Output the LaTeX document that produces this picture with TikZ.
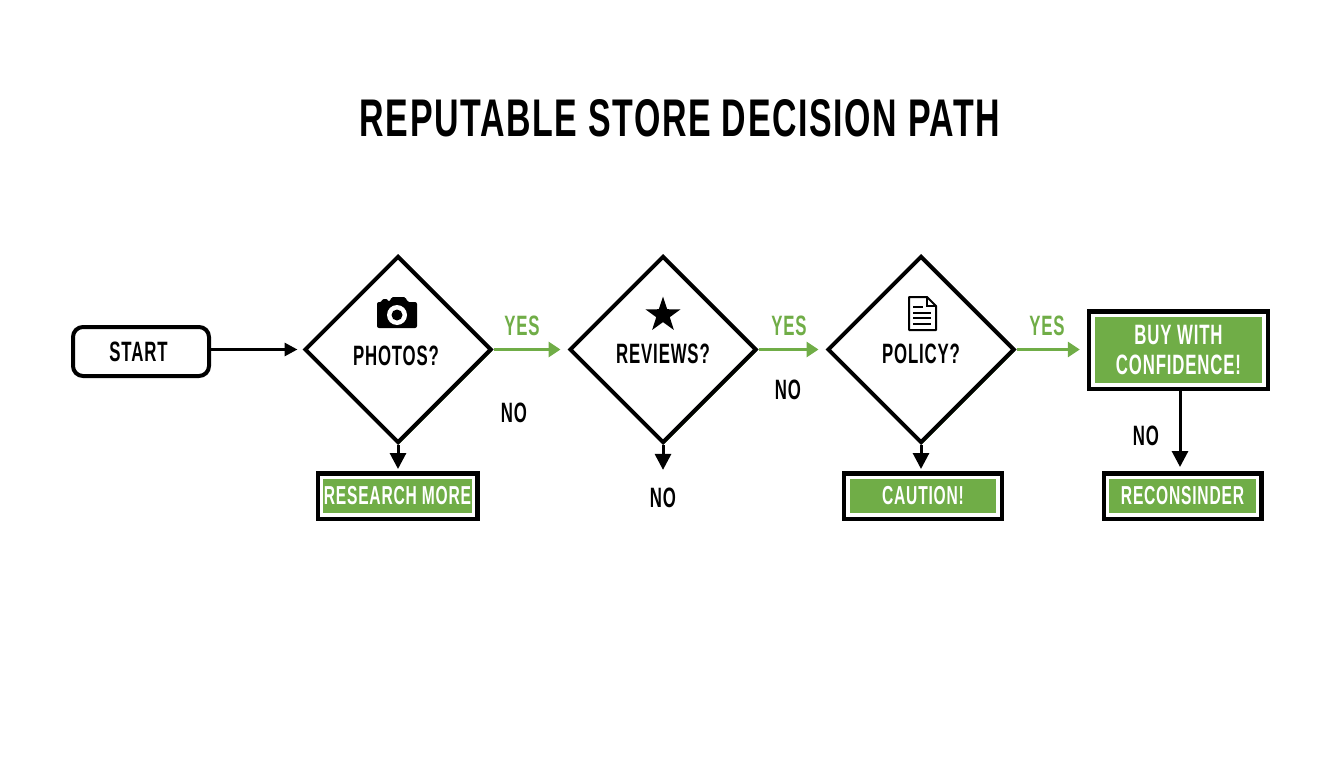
\documentclass[tikz,border=0pt]{standalone}
\usepackage{fontspec}
\usetikzlibrary{arrows.meta, shapes.geometric}

\newfontfamily\dinfont[FakeStretch=0.6, LetterSpace=3]{Liberation Sans}
\newfontfamily\titlefont[FakeStretch=0.64, LetterSpace=3]{Liberation Sans}
\definecolor{pathgreen}{HTML}{70AD47}

\tikzset{
    question/.style={diamond, draw=black, fill=white, line width=4pt, aspect=1, inner sep=0pt, minimum width=187pt, minimum height=187pt},
    qtext/.style={inner sep=0pt, font=\dinfont\bfseries\fontsize{28}{30}\selectfont},
    yeslabel/.style={qtext, text=pathgreen},
    resultbox/.style={rectangle, fill=pathgreen, draw=white, line width=3.3pt, text=white, align=center, inner sep=0pt, outer sep=6.15pt, minimum height=37.7pt,
        font=\dinfont\bfseries\fontsize{26}{30}\selectfont, preaction={draw=black, line width=12.3pt}},
    noarrow/.style={draw=black, line width=3pt, -{Triangle[length=16pt,width=16pt]}},
    yesarrow/.style={draw=pathgreen, line width=3pt, -{Triangle[length=12pt,width=15pt]}, shorten >=7pt},
}

\begin{document}
\begin{tikzpicture}[x=1pt, y=-1pt]
    \useasboundingbox (0,0) rectangle (1344,768);

    \node[inner sep=0pt, font=\titlefont\bfseries\fontsize{53}{55}\selectfont] (title) at (680,118) {REPUTABLE STORE DECISION PATH};

    \node[draw=black, line width=4pt, rounded corners=10pt, inner sep=0pt, minimum width=136pt, minimum height=49pt, font=\dinfont\bfseries\fontsize{28}{30}\selectfont] (start) at (141,351.5) {\hspace*{-5pt}START};

    \foreach \cx/\name in {398/photos, 663/reviews, 921/policy} {
        \draw[pathgreen, line width=1pt] (\cx+94,350.5) -- (\cx+1,443.5);
        \node[question] (\name) at (\cx,349.5) {};
    }

    \node[qtext] (photostext) at (396,356) {PHOTOS?};
    \node[qtext] (reviewstext) at (663,354) {REVIEWS?};
    \node[qtext] (policytext) at (921,354) {POLICY?};

    \node[resultbox, minimum width=151.7pt] (research) at (397.5,496) {RESEARCH MORE};
    \node[resultbox, minimum width=150.2pt] (caution) at (923,496) {CAUTION!};
    \node[resultbox, minimum width=149.7pt] (recon) at (1182.5,496) {RECONSINDER};
    \node[resultbox, minimum width=171.2pt, minimum height=69.7pt, font=\dinfont\bfseries\fontsize{28}{30}\selectfont] (buy) at (1178.5,350) {BUY WITH\\CONFIDENCE!};

    \node[yeslabel] (yesa) at (522,326) {YES};
    \node[yeslabel] (yesb) at (789,326) {YES};
    \node[yeslabel] (yesc) at (1047,326) {YES};

    \node[qtext] (noa) at (514,413) {NO};
    \node[qtext] (nob) at (788,390) {NO};
    \node[qtext] (noc) at (663,498) {NO};
    \node[qtext] (nod) at (1146,436) {NO};

    \draw[draw=black, line width=3pt, -{Triangle[length=13pt,width=13pt]}, shorten >=5pt] (start.east |- photos.west) -- (photos.west);
    \draw[yesarrow] (photos.east) -- (reviews.west);
    \draw[yesarrow] (reviews.east) -- (policy.west);
    \draw[yesarrow, shorten >=7pt] (policy.east) -- (policy.east -| buy.west);
    \draw[noarrow, shorten >=2pt] (photos.south) -- (photos.south |- research.north);
    \draw[noarrow, shorten >=18pt] (reviews.south) -- (noc.north);
    \draw[noarrow, shorten >=2pt] (policy.south) -- (policy.south |- caution.north);
    \draw[noarrow, shorten >=4pt] ([xshift=1.5pt]buy.south) -- ([xshift=1.5pt]buy.south |- recon.north);

    % camera
    \fill[black, rounded corners=2pt] (377,328) -- (377,302) -- (382,302) -- (382,299) -- (388,299) -- (388,302) -- (390,302) -- (391,297) -- (406,297) -- (407,302) -- (417,302) -- (417,328) -- cycle;
    \fill[white] (397,315) circle (10);
    \fill[black] (397,315) circle (5.5);

    % star
    \node[star, star points=5, star point ratio=2.6, fill=black, inner sep=0pt, minimum size=37pt] (staricon) at (663,315) {};

    % document
    \draw[black, line width=2pt, line join=round] (909,297) -- (927,297) -- (936,306) -- (936,330) -- (909,330) -- cycle;
    \draw[black, line width=1.5pt] (927,297) -- (927,306) -- (936,306);
    \foreach \y/\xe in {307/923, 313/931, 318/931, 324/931} {
        \draw[black, line width=2pt] (913,\y) -- (\xe,\y);
    }
\end{tikzpicture}
\end{document}
